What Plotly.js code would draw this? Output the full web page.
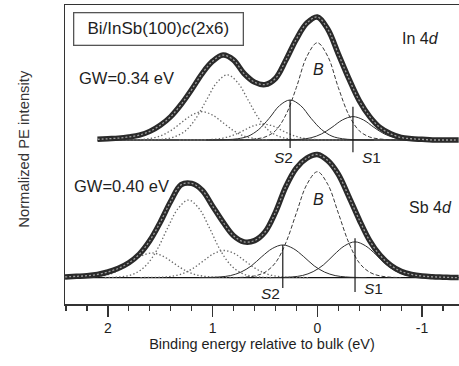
<!DOCTYPE html>
<html><head><meta charset="utf-8">
<script src="https://cdn.plot.ly/plotly-3.0.1.min.js"></script>
<style>html,body{margin:0;padding:0;background:#fff}#chart{width:459px;height:366px}</style>
</head><body><div id="chart"></div>
<script>
// ---------- data ----------
const OFFSET_IN = 1.118;            // vertical offset of the In 4d spectrum
const X_TICKS = [2, 1, 0, -1];
const X_TICK_LABELS = ['2', '1', '0', '-1'];

// In 4d measured spectrum
const IN_E = [2.1,2.0,1.9,1.8,1.7,1.6,1.5,1.4,1.3,1.2,1.1,1.0,0.9,0.8,0.7,0.6,0.5,0.4,0.3,0.2,0.1,0.0,-0.1,-0.2,-0.3,-0.4,-0.5,-0.6,-0.7,-0.8,-0.9,-1.0,-1.1,-1.2,-1.3,-1.35];
const IN_I = [0.005,0.01,0.015,0.025,0.04,0.07,0.12,0.19,0.29,0.41,0.54,0.64,0.69,0.65,0.54,0.47,0.45,0.50,0.65,0.82,0.95,1.0,0.90,0.70,0.50,0.32,0.19,0.10,0.05,0.02,0.01,0.005,0,0,0,0];

// In 4d components
const IN_B_E  = [0.8,0.7,0.6,0.5,0.4,0.3,0.2,0.1,0.0,-0.1,-0.2,-0.3,-0.4,-0.5,-0.6,-0.7,-0.8];
const IN_B_I  = [0,0.002,0.008,0.024,0.075,0.205,0.427,0.679,0.79,0.679,0.427,0.205,0.075,0.024,0.008,0.002,0];
const IN_S2_E = [1.06,0.96,0.86,0.76,0.66,0.56,0.46,0.36,0.26,0.16,0.06,-0.04,-0.14,-0.24,-0.34,-0.44,-0.54];
const IN_S2_I = [0,0.001,0.003,0.010,0.031,0.085,0.176,0.280,0.325,0.280,0.176,0.085,0.031,0.010,0.003,0.001,0];
const IN_S1_E = [0.46,0.36,0.26,0.16,0.06,-0.04,-0.14,-0.24,-0.34,-0.44,-0.54,-0.64,-0.74,-0.84,-0.94,-1.04,-1.14];
const IN_S1_I = [0,0.001,0.002,0.006,0.018,0.049,0.103,0.163,0.19,0.163,0.103,0.049,0.018,0.006,0.002,0.001,0];
const IN_Bp_E  = [1.66,1.56,1.46,1.36,1.26,1.16,1.06,0.96,0.86,0.76,0.66,0.56,0.46,0.36,0.26,0.16,0.06];
const IN_Bp_I  = [0,0.002,0.008,0.027,0.074,0.175,0.323,0.466,0.53,0.466,0.323,0.175,0.074,0.027,0.008,0.002,0];
const IN_S2p_E = [1.9,1.8,1.7,1.6,1.5,1.4,1.3,1.2,1.1,1.0,0.9,0.8,0.7,0.6,0.5,0.4,0.3];
const IN_S2p_I = [0,0.001,0.003,0.012,0.032,0.076,0.140,0.202,0.23,0.202,0.140,0.076,0.032,0.012,0.003,0.001,0];
const IN_S1p_E = [1.32,1.22,1.12,1.02,0.92,0.82,0.72,0.62,0.52,0.42,0.32,0.22,0.12,0.02,-0.08,-0.18,-0.28];
const IN_S1p_I = [0,0.0004,0.001,0.004,0.012,0.034,0.070,0.112,0.13,0.112,0.070,0.034,0.012,0.004,0.001,0.0004,0];
const IN_MARK_E = [0.26, -0.34];               // S2, S1 position bars
const IN_MARK_LO = [-0.065, -0.10];
const IN_MARK_HI = [0.325, 0.27];

// Sb 4d measured spectrum
const SB_E = [2.41,2.3,2.2,2.1,2.0,1.9,1.8,1.7,1.6,1.5,1.4,1.3,1.2,1.1,1.0,0.9,0.8,0.7,0.6,0.5,0.4,0.3,0.2,0.1,0.0,-0.1,-0.2,-0.3,-0.4,-0.5,-0.6,-0.7,-0.8,-0.9,-1.0,-1.1,-1.2,-1.3,-1.35];
const SB_I = [0.005,0.01,0.015,0.025,0.045,0.075,0.12,0.19,0.30,0.45,0.62,0.755,0.765,0.71,0.58,0.45,0.34,0.29,0.30,0.37,0.53,0.74,0.89,0.97,1.0,0.95,0.84,0.66,0.47,0.30,0.18,0.10,0.05,0.025,0.012,0.006,0.003,0,0];

// Sb 4d components
const SB_B_E  = [0.8,0.7,0.6,0.5,0.4,0.3,0.2,0.1,0.0,-0.1,-0.2,-0.3,-0.4,-0.5,-0.6,-0.7,-0.8];
const SB_B_I  = [0,0.003,0.013,0.043,0.120,0.284,0.525,0.757,0.86,0.757,0.525,0.284,0.120,0.043,0.013,0.003,0];
const SB_S2_E = [1.13,1.03,0.93,0.83,0.73,0.63,0.53,0.43,0.33,0.23,0.13,0.03,-0.07,-0.17,-0.27,-0.37,-0.47];
const SB_S2_I = [0,0.001,0.005,0.016,0.044,0.095,0.170,0.236,0.265,0.236,0.170,0.095,0.044,0.016,0.005,0.001,0];
const SB_S1_E = [0.44,0.34,0.24,0.14,0.04,-0.06,-0.16,-0.26,-0.36,-0.46,-0.56,-0.66,-0.76,-0.86,-0.96,-1.06,-1.16];
const SB_S1_I = [0,0.001,0.005,0.017,0.048,0.104,0.186,0.258,0.29,0.258,0.186,0.104,0.048,0.017,0.005,0.001,0];
const SB_Bp_E  = [2.03,1.93,1.83,1.73,1.63,1.53,1.43,1.33,1.23,1.13,1.03,0.93,0.83,0.73,0.63,0.53,0.43];
const SB_Bp_I  = [0,0.003,0.011,0.038,0.104,0.227,0.403,0.561,0.63,0.561,0.403,0.227,0.104,0.038,0.011,0.003,0];
const SB_S2p_E = [2.38,2.28,2.18,2.08,1.98,1.88,1.78,1.68,1.58,1.48,1.38,1.28,1.18,1.08,0.98,0.88,0.78];
const SB_S2p_I = [0,0.001,0.003,0.010,0.028,0.066,0.122,0.176,0.2,0.176,0.122,0.066,0.028,0.010,0.003,0.001,0];
const SB_S1p_E = [1.69,1.59,1.49,1.39,1.29,1.19,1.09,0.99,0.89,0.79,0.69,0.59,0.49,0.39,0.29,0.19,0.09];
const SB_S1p_I = [0,0.001,0.003,0.011,0.031,0.073,0.134,0.194,0.22,0.194,0.134,0.073,0.031,0.011,0.003,0.001,0];
const SB_MARK_E = [0.33, -0.36];
const SB_MARK_LO = [-0.085, -0.118];
const SB_MARK_HI = [0.264, 0.32];

// ---------- styles ----------
const FONT = 'Liberation Sans, Arial, Helvetica, sans-serif';
const TXT = '#1e1e1e';
const SOLID = {color:'#2e2e2e', width:1};
const DASH  = {color:'#3a3a3a', width:1, dash:'4px,2px'};
const DOT   = {color:'#6a6a6a', width:1.3, dash:'1.4px,2.2px'};

function add(arr, v){ return arr.map(a => a + v); }
function curve(x, y, off, line){
  return {type:'scatter', mode:'lines', x:x, y:add(y, off), hoverinfo:'skip',
          line:Object.assign({shape:'spline', smoothing:1}, line)};
}
function baseline(xs, off){
  return {type:'scatter', mode:'lines', x:[xs[0], xs[xs.length-1]], y:[off, off],
          hoverinfo:'skip', line:{color:'#111', width:1.3}};
}
function marks(E, lo, hi, off){
  return E.map((e,i)=>({type:'scatter', mode:'lines', x:[e,e], y:[lo[i]+off, hi[i]+off],
          hoverinfo:'skip', line:{color:'#1a1a1a', width:1.2}}));
}
function dataBand(x, y, off){
  return [
    {type:'scatter', mode:'lines', x:x, y:add(y,off), hoverinfo:'skip',
     line:{shape:'spline', smoothing:1, color:'#2a2a2a', width:5.5}},
    {type:'scatter', mode:'lines', x:x, y:add(y,off), hoverinfo:'skip',
     line:{shape:'spline', smoothing:1, color:'#a0a0a0', width:1.3, dash:'2px,2px'}}
  ];
}

const traces = [
  baseline(IN_E, OFFSET_IN),
  baseline(SB_E, 0),
  curve(IN_Bp_E, IN_Bp_I, OFFSET_IN, DOT),
  curve(IN_S2p_E, IN_S2p_I, OFFSET_IN, DOT),
  curve(IN_S1p_E, IN_S1p_I, OFFSET_IN, DOT),
  curve(IN_B_E, IN_B_I, OFFSET_IN, DASH),
  curve(IN_S2_E, IN_S2_I, OFFSET_IN, SOLID),
  curve(IN_S1_E, IN_S1_I, OFFSET_IN, SOLID),
  curve(SB_Bp_E, SB_Bp_I, 0, DOT),
  curve(SB_S2p_E, SB_S2p_I, 0, DOT),
  curve(SB_S1p_E, SB_S1p_I, 0, DOT),
  curve(SB_B_E, SB_B_I, 0, DASH),
  curve(SB_S2_E, SB_S2_I, 0, SOLID),
  curve(SB_S1_E, SB_S1_I, 0, SOLID),
  ...marks(IN_MARK_E, IN_MARK_LO, IN_MARK_HI, OFFSET_IN),
  ...marks(SB_MARK_E, SB_MARK_LO, SB_MARK_HI, 0),
  ...dataBand(IN_E, IN_I, OFFSET_IN),
  ...dataBand(SB_E, SB_I, 0)
];

function lab(x, y, text, size, extra){
  return Object.assign({x:x, y:y, xref:'x', yref:'y', text:text, showarrow:false,
    font:{family:FONT, size:size, color:TXT}, xanchor:'center', yanchor:'middle'}, extra||{});
}

const annotations = [
  lab(1.519, 2.020, 'Bi/InSb(100)<i>c</i>(2x6)', 17,
      {bordercolor:'#555', borderwidth:1.3, borderpad:2, width:164, height:27, bgcolor:'#fff'}),
  lab(-0.99, 1.939, 'In 4<i>d</i>', 16),
  lab(-1.08, 0.573, 'Sb 4<i>d</i>', 16),
  lab(1.824, 1.622, 'GW=0.34 eV', 16.5),
  lab(1.872, 0.744, 'GW=0.40 eV', 16.5),
  lab(-0.01, 1.687, '<i>B</i>', 16),
  lab(-0.01, 0.638, '<i>B</i>', 16),
  lab(0.325, 0.972, '<i>S</i>2', 15.5),
  lab(-0.516, 0.972, '<i>S</i>1', 15.5),
  lab(0.449, -0.126, '<i>S</i>2', 15.5),
  lab(-0.535, -0.093, '<i>S</i>1', 15.5),
  // y-axis title
  {xref:'paper', yref:'paper', x:-0.106, y:0.52, text:'Normalized PE intensity', textangle:-90,
   showarrow:false, xanchor:'center', yanchor:'middle', font:{family:FONT, size:14.8, color:'#333'}}
];

const layout = {
  width:459, height:366,
  margin:{l:65, r:0, t:5, b:62, pad:0},
  paper_bgcolor:'#fff', plot_bgcolor:'#fff',
  showlegend:false,
  font:{family:FONT, color:TXT},
  xaxis:{
    range:[2.41, -1.353], tickmode:'array', tickvals:X_TICKS, ticktext:X_TICK_LABELS,
    ticks:'outside', ticklen:11, tickwidth:1.5, tickcolor:'#333',
    showline:true, linecolor:'#333', linewidth:1.5, mirror:true,
    showgrid:false, zeroline:false,
    tickfont:{family:FONT, size:14, color:TXT},
    minor:{tickmode:'linear', tick0:0, dtick:0.2, ticks:'outside', ticklen:5, tickwidth:1.2, tickcolor:'#333', showgrid:false},
    title:{text:'Binding energy relative to bulk (eV)', font:{family:FONT, size:14.5, color:TXT}, standoff:1}
  },
  yaxis:{
    range:[-0.215, 2.215], showline:true, linecolor:'#333', linewidth:1.5, mirror:false,
    ticks:'', showticklabels:false, showgrid:false, zeroline:false,
    title:{text:''}
  },
  annotations:annotations
};

Plotly.newPlot('chart', traces, layout, {displayModeBar:false, staticPlot:true});
</script>
</body></html>
